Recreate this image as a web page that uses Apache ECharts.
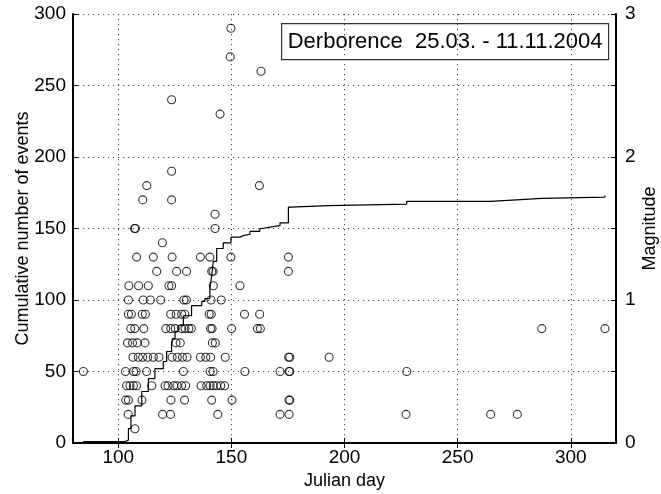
<!DOCTYPE html>
<html>
<head>
<meta charset="utf-8">
<script src="https://cdn.jsdelivr.net/npm/echarts@6/dist/echarts.min.js"></script>
<style>
html,body{margin:0;padding:0;background:#fff;}
#chart{width:661px;height:494px;}
</style>
</head>
<body>
<div id="chart"></div>
<script>
// ---- Data ----
const xTicks = [100, 150, 200, 250, 300];
const leftTicks = [0, 50, 100, 150, 200, 250, 300];
const rightTicks = [0, 1, 2, 3];

// event Julian day and magnitude (scatter)
const eventDay = [
  149.8, 149.5, 163.1, 123.6, 145.0, 123.6,
  112.6, 162.4, 110.8, 123.6, 142.8,
  107.2, 107.6, 142.8, 119.5,
  108.1, 115.5, 123.8, 136.3, 140.5, 149.8, 175.2,
  117.0, 125.8, 130.2, 141.3, 141.9, 175.2,
  104.7, 109.0, 113.3, 122.4, 123.6, 142.0, 153.8,
  104.5, 111.0, 114.2, 118.8, 129.0, 130.1, 141.0, 145.5,
  104.5, 105.8, 110.6, 112.0, 123.2, 125.6, 128.0, 129.4, 140.2, 141.1, 155.8, 162.5,
  105.5, 107.3, 111.3, 121.0, 123.2, 125.2, 128.0, 129.5, 131.2, 132.3, 140.8, 141.5, 150.1, 161.5, 162.8, 287.2, 315.1,
  104.1, 106.3, 108.4, 111.8, 125.5, 127.4, 141.6, 142.9,
  106.5, 108.9, 110.8, 113.0, 115.5, 118.0, 123.8, 126.1, 128.4, 130.4, 136.3, 138.7, 140.8, 147.3, 175.3, 175.8, 193.2,
  84.6, 103.2, 106.8, 107.9, 112.5, 128.8, 140.6, 141.9, 156.0, 171.5, 175.5, 175.8, 227.5,
  103.7, 105.2, 106.7, 108.1, 114.8, 120.7, 122.0, 124.5, 126.0, 128.0, 129.8, 136.6, 139.1, 140.6, 142.0, 143.5, 145.3, 147.0,
  103.3, 104.5, 110.5, 123.3, 129.3, 141.3, 150.3, 175.5, 175.8,
  104.4, 119.6, 123.1, 144.0, 171.5, 175.5, 227.2, 264.6, 276.4,
  107.4
];
const eventMag = [
  2.9, 2.7, 2.6, 2.4, 2.3, 1.9,
  1.8, 1.8, 1.7, 1.7, 1.6,
  1.5, 1.5, 1.5, 1.4,
  1.3, 1.3, 1.3, 1.3, 1.3, 1.3, 1.3,
  1.2, 1.2, 1.2, 1.2, 1.2, 1.2,
  1.1, 1.1, 1.1, 1.1, 1.1, 1.1, 1.1,
  1.0, 1.0, 1.0, 1.0, 1.0, 1.0, 1.0, 1.0,
  0.9, 0.9, 0.9, 0.9, 0.9, 0.9, 0.9, 0.9, 0.9, 0.9, 0.9, 0.9,
  0.8, 0.8, 0.8, 0.8, 0.8, 0.8, 0.8, 0.8, 0.8, 0.8, 0.8, 0.8, 0.8, 0.8, 0.8, 0.8, 0.8,
  0.7, 0.7, 0.7, 0.7, 0.7, 0.7, 0.7, 0.7,
  0.6, 0.6, 0.6, 0.6, 0.6, 0.6, 0.6, 0.6, 0.6, 0.6, 0.6, 0.6, 0.6, 0.6, 0.6, 0.6, 0.6,
  0.5, 0.5, 0.5, 0.5, 0.5, 0.5, 0.5, 0.5, 0.5, 0.5, 0.5, 0.5, 0.5,
  0.4, 0.4, 0.4, 0.4, 0.4, 0.4, 0.4, 0.4, 0.4, 0.4, 0.4, 0.4, 0.4, 0.4, 0.4, 0.4, 0.4, 0.4,
  0.3, 0.3, 0.3, 0.3, 0.3, 0.3, 0.3, 0.3, 0.3,
  0.2, 0.2, 0.2, 0.2, 0.2, 0.2, 0.2, 0.2, 0.2,
  0.1
];

// cumulative number of events (step curve)
const cumDay = [84.5, 103.0, 103.5, 104.5, 105.6, 107.4, 110.4, 113.3, 116.2, 119.9, 121.4, 123.6, 124.0, 125.1, 126.5, 128.8, 132.4, 136.9, 138.3, 140.5, 141.3, 142.0, 143.5, 146.4, 149.8, 153.8, 155.3, 158.2, 162.6, 163.5, 167.1, 171.5, 175.2, 176.2, 192.9, 227.5, 264.3, 276.1, 287.1, 315.1];
const cumCount = [1, 1, 2, 10, 19, 26, 36, 45, 52, 57, 64, 70, 73, 78, 82, 89, 96, 99, 101, 108, 117, 127, 136, 140, 144, 145, 146, 148, 150, 151, 152, 154, 165, 166, 167, 169, 170, 171, 172, 173];

const legendText = 'Derborence  25.03. - 11.11.2004';

// ---- Chart ----
const FONT = '"Liberation Sans", Arial, Helvetica, sans-serif';
const chart = echarts.init(document.getElementById('chart'));

const scatterData = eventDay.map((d, i) => [d, eventMag[i]]);
const lineData = cumDay.map((d, i) => [d, cumCount[i]]);

const gridLine = { show: true, lineStyle: { color: '#444', width: 1, type: [1.2, 3.8] } };
const axisLineStyle = { show: true, lineStyle: { color: '#000', width: 2 } };
const labelStyle = { color: '#000', fontSize: 19, fontFamily: FONT };

chart.setOption({
  backgroundColor: '#fff',
  animation: false,
  grid: { left: 73, right: 45, top: 14, bottom: 51, containLabel: false, outerBoundsMode: 'none' },
  xAxis: [
    {
      type: 'value', min: 80, max: 320, interval: 50,
      position: 'bottom',
      name: 'Julian day', nameLocation: 'middle', nameGap: 27,
      nameTextStyle: { color: '#000', fontSize: 18, fontFamily: FONT },
      axisLine: axisLineStyle,
      axisTick: { show: true, inside: true, length: 5, lineStyle: { color: '#000', width: 1 },
                  customValues: xTicks },
      axisLabel: Object.assign({ margin: 5, customValues: xTicks }, labelStyle),
      splitLine: Object.assign({}, gridLine),
      showMinLabel: false, showMaxLabel: false
    },
    {
      type: 'value', min: 80, max: 320, interval: 50,
      position: 'top',
      axisLine: axisLineStyle,
      axisTick: { show: true, inside: true, length: 5, lineStyle: { color: '#000', width: 1 },
                  customValues: xTicks },
      axisLabel: { show: false },
      splitLine: { show: false }
    }
  ],
  yAxis: [
    {
      type: 'value', min: 0, max: 300, interval: 50,
      position: 'left',
      name: 'Cumulative number of events', nameLocation: 'middle', nameGap: 41, nameRotate: 90,
      nameMoveOverlap: false,
      nameTextStyle: { color: '#000', fontSize: 18, fontFamily: FONT },
      axisLine: axisLineStyle,
      axisTick: { show: true, inside: true, length: 5, lineStyle: { color: '#000', width: 1 } },
      axisLabel: Object.assign({ margin: 7 }, labelStyle),
      splitLine: Object.assign({}, gridLine)
    },
    {
      type: 'value', min: 0, max: 3, interval: 0.5,
      position: 'right',
      name: 'Magnitude', nameLocation: 'middle', nameGap: 25, nameRotate: 90,
      nameMoveOverlap: false,
      nameTextStyle: { color: '#000', fontSize: 18, fontFamily: FONT },
      axisLine: axisLineStyle,
      axisTick: { show: true, inside: true, length: 5, lineStyle: { color: '#000', width: 1 } },
      axisLabel: Object.assign({ margin: 9,
        formatter: v => (rightTicks.indexOf(v) >= 0 ? String(v) : '') }, labelStyle),
      splitLine: { show: false }
    }
  ],
  series: [
    {
      type: 'line', name: 'cumulative',
      xAxisIndex: 0, yAxisIndex: 0,
      data: lineData, step: 'end', showSymbol: false, symbol: 'none',
      lineStyle: { color: '#000', width: 1.2 }, z: 3
    },
    {
      type: 'scatter', name: 'magnitude',
      xAxisIndex: 0, yAxisIndex: 1,
      data: scatterData, symbol: 'circle', symbolSize: 8,
      itemStyle: { color: 'rgba(0,0,0,0)', borderColor: '#000', borderWidth: 1.1 },
      z: 4
    }
  ],
  graphic: [
    {
      type: 'group', left: 281, top: 23, z: 10,
      children: [
        { type: 'rect', shape: { x: 0, y: 0, width: 327, height: 36 },
          style: { fill: '#fff', stroke: '#333', lineWidth: 1.2 } },
        { type: 'text', x: 163.5, y: 18,
          style: { text: legendText, fill: '#000', font: '22px ' + FONT,
                   align: 'center', verticalAlign: 'middle' } }
      ]
    }
  ]
});
</script>
</body>
</html>
